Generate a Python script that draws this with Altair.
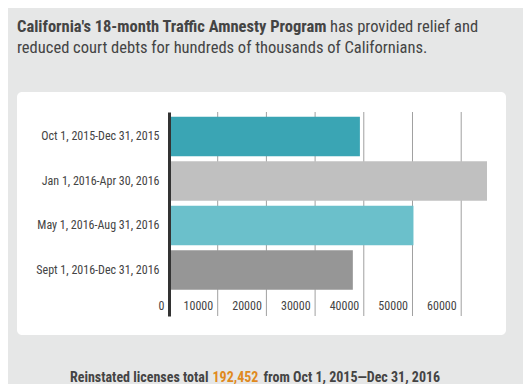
import altair as alt
import pandas as pd

periods = [
    "Oct 1, 2015-Dec 31, 2015",
    "Jan 1, 2016-Apr 30, 2016",
    "May 1, 2016-Aug 31, 2016",
    "Sept 1, 2016-Dec 31, 2016",
]
licenses = [39200, 65300, 50200, 37750]
bar_colors = ["#3aa5b4", "#c0c0c0", "#6bc0cb", "#969696"]
tick_values = [0, 10000, 20000, 30000, 40000, 50000, 60000]

title_bold = "California's 18-month Traffic Amnesty Program"
title_rest1 = "has provided relief and"
title_line2 = "reduced court debts for hundreds of thousands of Californians."
foot_a = "Reinstated licenses total"
foot_num = "192,452"
foot_b = "from Oct 1, 2015\u2014Dec 31, 2016"

FONT = "Roboto Condensed, DejaVu Sans Condensed, sans-serif"
TXT = "#444444"
BG = "#e6e7e7"

df = pd.DataFrame({"period": periods, "licenses": licenses})
grid_df = pd.DataFrame({"v": tick_values[1:]})

W, H = 318, 204
OX, OY = 169, 112


def px(x):
    return x - OX


def py(y):
    return y - OY


card = alt.Chart(pd.DataFrame({"c": [1]})).mark_rect(
    color="white", cornerRadius=5
).encode(
    x=alt.value(px(17)), x2=alt.value(px(506)),
    y=alt.value(py(92)), y2=alt.value(py(335)),
)

xscale = alt.Scale(domain=[0, 65300], nice=False)
xaxis = alt.Axis(
    title=None, values=tick_values, format="d", domain=False, ticks=False,
    grid=False, zindex=1,
    labelFont=FONT, labelFontSize=12, labelColor=TXT,
    labelAlign="right", labelBaseline="middle", labelOffset=-5,
    labelPadding=-11,
)

grid = alt.Chart(grid_df).mark_rule(color="#a0a0a0", strokeWidth=1).encode(
    x=alt.X("v:Q", scale=xscale, axis=xaxis),
    y=alt.value(0), y2=alt.value(H),
)

bars = alt.Chart(df).mark_bar().encode(
    y=alt.Y(
        "period:N",
        sort=periods,
        scale=alt.Scale(paddingInner=0.112, paddingOuter=0.348, align=0.15),
        axis=alt.Axis(
            title=None, ticks=False, domainColor="#333333", domainWidth=3,
            labelFont=FONT, labelFontSize=12, labelColor=TXT, labelPadding=10,
            grid=False, zindex=1,
        ),
    ),
    x=alt.X("licenses:Q", scale=xscale, axis=xaxis),
    color=alt.Color("period:N", sort=periods,
                    scale=alt.Scale(domain=periods, range=bar_colors), legend=None),
)


def text_layer(s, x, y, weight="normal", color=TXT, size=16.5):
    return alt.Chart(pd.DataFrame({"t": [s]})).mark_text(
        align="left", baseline="alphabetic", font=FONT, fontSize=size,
        fontWeight=weight, color=color,
    ).encode(text="t:N", x=alt.value(px(x)), y=alt.value(py(y)))


texts = [
    text_layer(title_bold, 17, 32, "bold"),
    text_layer(title_rest1, 330, 32),
    text_layer(title_line2, 17, 53),
    text_layer(foot_a, 70, 381.5, "bold", size=14),
    text_layer(foot_num, 212.5, 381.5, "bold", color="#e08a1e", size=14),
    text_layer(foot_b, 263.5, 381.5, "bold", size=14),
]

chart = alt.layer(card, grid, bars, *texts).properties(
    width=W, height=H,
    autosize=alt.AutoSizeParams(type="none"),
    padding={"left": OX - 8, "top": OY - 8, "right": 515 - (OX - 8) - W,
             "bottom": 376 - (OY - 8) - H},
    background=BG,
).configure_view(stroke=None)

chart.save("out.html", embed_options={"renderer": "svg", "actions": False})
